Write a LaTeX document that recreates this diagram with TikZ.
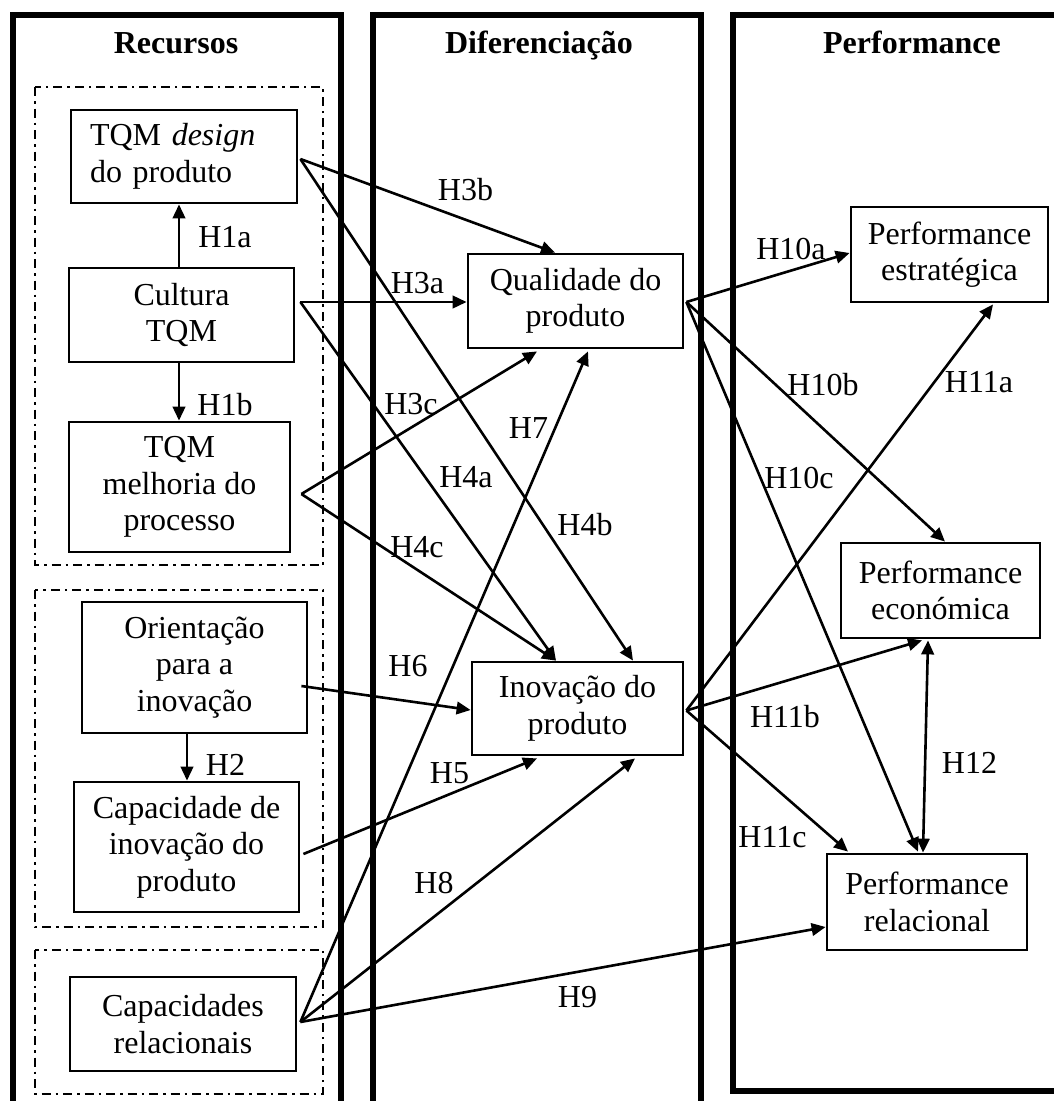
\documentclass[tikz,border=0pt]{standalone}
\usepackage{fontspec}
\setmainfont{Liberation Serif}
\usetikzlibrary{arrows.meta,calc}
\begin{document}
\begin{tikzpicture}[x=1pt,y=-1pt,
  txt/.style={font=\fontsize{32}{36.5}\selectfont},
  colframe/.style={draw,line width=6pt},
  grpframe/.style={draw,line width=2pt,dash pattern=on 9pt off 5pt on 2.5pt off 5pt},
  box/.style={draw,line width=2.8pt,txt,align=center,inner sep=0pt},
  arr/.style={line width=2.6pt,-{Triangle[length=14pt,width=12.5pt]}},
  dblarr/.style={line width=2.6pt,{Triangle[length=14pt,width=12.5pt]}-{Triangle[length=14pt,width=12.5pt]}},
  lbl/.style={txt,inner sep=0pt},
  ttl/.style={font=\fontsize{32}{36.5}\selectfont\bfseries,anchor=base,inner sep=0pt}]
\useasboundingbox (0,0) rectangle (1053,1101);

% three column frames
\draw[colframe] (13,15) rectangle (341,1125);
\draw[colframe] (373,15) rectangle (701,1125);
\draw[colframe] (732.5,15) rectangle (1070,1091);

\node[ttl] (tRec) at (176,53) {Recursos};
\node[ttl] (tDif) at (539,53) {Diferenciação};
\node[ttl] (tPerf) at (912,53) {Performance};

% resource groups
\draw[grpframe] (35,87) rectangle (323,565);
\draw[grpframe] (35,590) rectangle (323,927);
\draw[grpframe] (35,950) rectangle (323,1094);

% resource constructs
\node[box,minimum width=226pt,minimum height=93pt,text width=188pt,align=left] (tqmd) at (184,156.5) {TQM \textit{design}\\do produto};
\node[box,minimum width=225pt,minimum height=94pt] (cult) at (181.5,315) {Cultura\\TQM};
\node[box,minimum width=221pt,minimum height=130pt] (tqmm) at (179.5,487) {TQM\\melhoria do\\processo};
\node[box,minimum width=225pt,minimum height=131pt] (orie) at (194.5,667.5) {Orientação\\para a\\inovação};
\node[box,minimum width=225pt,minimum height=130pt] (capi) at (186.5,847) {Capacidade de\\inovação do\\produto};
\node[box,minimum width=226pt,minimum height=94pt] (capr) at (183,1024) {Capacidades\\relacionais};

% differentiation constructs
\node[box,minimum width=215pt,minimum height=94pt] (qual) at (575.5,301) {Qualidade do\\produto};
\node[box,minimum width=211pt,minimum height=93pt] (inov) at (577.5,708.5) {Inovação do\\produto};

% performance constructs
\node[box,minimum width=197pt,minimum height=95pt] (pest) at (949.5,254.5) {Performance\\estratégica};
\node[box,minimum width=199pt,minimum height=95pt] (econ) at (940.5,590.5) {Performance\\económica};
\node[box,minimum width=200pt,minimum height=96pt] (prel) at (927,902) {Performance\\relacional};

% outgoing points
\coordinate (tqmdO) at ($(tqmd.east)+(2,2.5)$);
\coordinate (cultO) at ($(cult.east)+(5,-13)$);
\coordinate (tqmmO) at ($(tqmm.east)+(10,7)$);
\coordinate (orieO) at ($(orie.east)+(-7,18.5)$);
\coordinate (capiO) at ($(capi.east)+(3,7)$);
\coordinate (caprO) at ($(capr.east)+(3,-2)$);
\coordinate (qualO) at ($(qual.east)+(2,1)$);
\coordinate (inovO) at ($(inov.east)+(2,2)$);

% within resources
\draw[arr] ([xshift=-2.5pt]cult.north) -- ([xshift=-2.5pt]cult.north |- tqmd.south);
\draw[arr] ([xshift=-2.5pt]cult.south) -- ([xshift=-2.5pt]cult.south |- tqmm.north);
\draw[arr] ([xshift=-7.5pt]orie.south) -- ([xshift=-7.5pt]orie.south |- capi.north);

% resources -> differentiation
\draw[arr] (tqmdO) -- ($(qual.north)+(-20.5,0)$);
\draw[arr] (cultO) -- (cultO -| qual.west);
\draw[arr] (tqmmO) -- ($(qual.south)+(-38.5,2)$);
\draw[arr] (caprO) -- ($(qual.south)+(12.5,2)$);
\draw[arr] (cultO) -- ($(inov.north)+(-21.5,0)$);
\draw[arr] (tqmmO) -- ($(inov.north)+(-21.5,0)$);
\draw[arr] (tqmdO) -- ($(inov.north)+(55.5,0)$);
\draw[arr] (orieO) -- ($(inov.west)+(0,1.5)$);
\draw[arr] (capiO) -- ($(inov.south)+(-40.5,2)$);
\draw[arr] (caprO) -- ($(inov.south)+(57.5,2)$);
\draw[arr] (caprO) -- ($(prel.west)+(0,25)$);

% differentiation -> performance
\draw[arr] (qualO) -- ($(pest.west)+(0,-1.5)$);
\draw[arr] (qualO) -- ($(econ.north)+(4.5,0)$);
\draw[arr] (qualO) -- ($(prel.north)+(-9,-1)$);
\draw[arr] (inovO) -- ($(pest.south)+(43.5,1)$);
\draw[arr] (inovO) -- ($(econ.south)+(-18.5,1)$);
\draw[arr] (inovO) -- ($(prel.north)+(-79,-1)$);
\draw[dblarr] ($(econ.south)+(-12.5,1)$) -- ($(prel.north)+(-4,0)$);

% hypothesis labels
\node[lbl] (h1a) at (225,237) {H1a};
\node[lbl] (h1b) at (225,405) {H1b};
\node[lbl] (h2) at (225.5,765) {H2};
\node[lbl] (h3a) at (417.5,283) {H3a};
\node[lbl] (h3b) at (465.5,190) {H3b};
\node[lbl] (h3c) at (411,404) {H3c};
\node[lbl] (h7) at (528.5,428) {H7};
\node[lbl] (h4a) at (466,477) {H4a};
\node[lbl] (h4b) at (585,525) {H4b};
\node[lbl] (h4c) at (417,547) {H4c};
\node[lbl] (h6) at (408,666) {H6};
\node[lbl] (h5) at (449.5,773) {H5};
\node[lbl] (h8) at (434,883) {H8};
\node[lbl] (h9) at (577.5,997) {H9};
\node[lbl] (h10a) at (791,249) {H10a};
\node[lbl] (h10b) at (823,385) {H10b};
\node[lbl] (h10c) at (799,478) {H10c};
\node[lbl] (h11a) at (979,382) {H11a};
\node[lbl] (h11b) at (785,717) {H11b};
\node[lbl] (h11c) at (772.5,837) {H11c};
\node[lbl] (h12) at (969.5,763) {H12};
\end{tikzpicture}
\end{document}
